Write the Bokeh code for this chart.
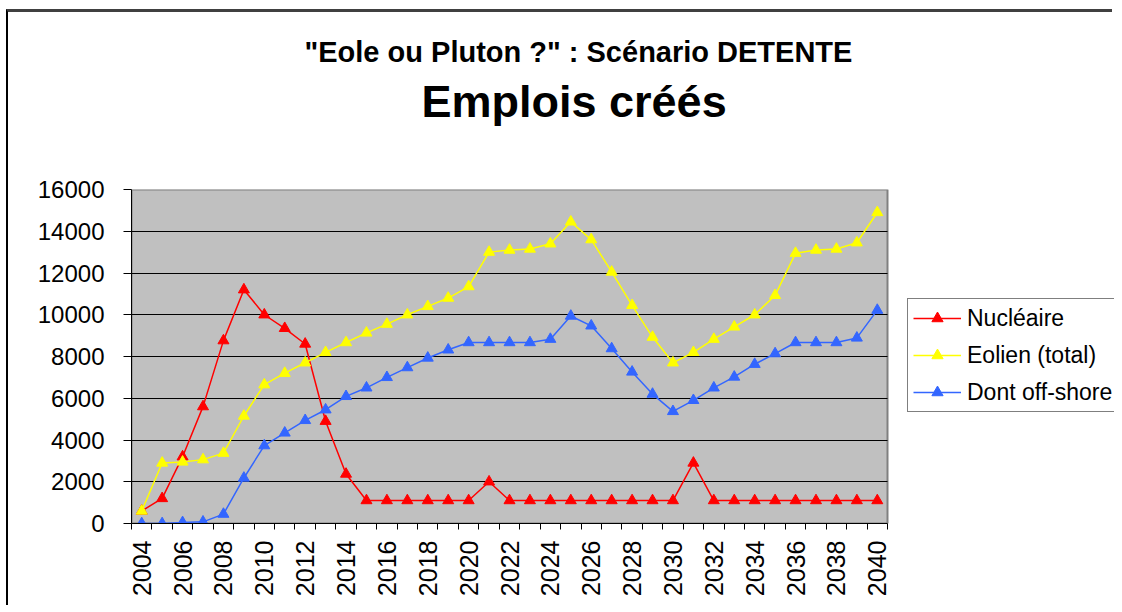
import math
from bokeh.plotting import figure
from bokeh.models import Range1d, FixedTicker, Legend, LegendItem, Title
from bokeh.embed import file_html
from bokeh.resources import INLINE

# ---- data ----
years = list(range(2004, 2041))
nucleaire = [600, 1200, 3200, 5600, 8760, 11200, 10000, 9350, 8600, 4900, 2370,
             1100, 1100, 1100, 1100, 1100, 1100, 2000,
             1100, 1100, 1100, 1100, 1100, 1100, 1100, 1100, 1100, 2900,
             1100, 1100, 1100, 1100, 1100, 1100, 1100, 1100, 1100]
eolien = [600, 2900, 2950, 3060, 3370, 5150, 6650, 7200, 7700, 8200, 8670, 9130,
          9550, 10000, 10400, 10800, 11350, 13000, 13100, 13150, 13400, 14450,
          13600, 12050, 10450, 8930, 7700, 8200, 8830, 9420, 10000, 10930,
          12950, 13100, 13150, 13450, 14900]
offshore = [0, 0, 50, 80, 450, 2180, 3730, 4340, 4940, 5450, 6090, 6500,
            7000, 7470, 7930, 8320, 8670, 8670, 8670, 8670, 8830, 9940,
            9470, 8380, 7260, 6200, 5370, 5900, 6500, 7020, 7630, 8140,
            8670, 8670, 8670, 8890, 10220]
series_names = ["Nucléaire", "Eolien (total)", "Dont off-shore"]
series_colors = ["#FF0000", "#FFFF00", "#3366FF"]
y_ticks = list(range(0, 16001, 2000))
x_label_years = list(range(2004, 2041, 2))
title1 = '"Eole ou Pluton ?" : Scénario DETENTE'
title2 = "Emplois créés"

FONT = "Liberation Sans"

# layout (page px)
CANVAS_LEFT, CANVAS_TOP = 8, 12
W, H = 1106, 596
FL, FR, FT, FB = 131, 887, 189, 523          # plot area in page px
CANVAS_RIGHT = CANVAS_LEFT + W

x0, x1 = years[0] - 0.5, years[-1] + 0.5
y0, y1 = y_ticks[0], y_ticks[-1]
# frame extends right to the canvas edge so the legend can live inside it
x_right = x0 + (CANVAS_RIGHT - FL) / (FR - FL) * (x1 - x0)

p = figure(width=W, height=H, output_backend="svg", toolbar_location=None,
           x_range=Range1d(x0, x_right), y_range=Range1d(y0, y1),
           min_border_left=FL - CANVAS_LEFT, min_border_top=FT - CANVAS_TOP,
           min_border_right=0,
           min_border_bottom=H - (FB - CANVAS_TOP))
p.styles = {"margin-left": "6px", "margin-top": "9px",
            "border-top": "3px solid #404040", "border-left": "2px solid #000000"}

p.background_fill_color = "white"
p.border_fill_color = "white"
p.outline_line_color = None

# plot area (grey background with grey border)
p.quad(left=[x0], right=[x1], bottom=[y0], top=[y1], fill_color="#C0C0C0",
       line_color="#808080", line_width=2, level="image")

# axes
p.xaxis.bounds = (x0, x1)
p.xaxis.ticker = FixedTicker(ticks=x_label_years,
                             minor_ticks=[y - 0.5 for y in years] + [years[-1] + 0.5])
p.xaxis.major_tick_out = 0
p.xaxis.major_tick_in = 0
p.xaxis.minor_tick_out = 6
p.xaxis.minor_tick_in = 0
p.xaxis.minor_tick_line_color = "black"
p.xaxis.major_label_orientation = math.pi / 2
p.xaxis.major_label_standoff = 11
p.xaxis.major_label_text_font = FONT
p.xaxis.major_label_text_font_size = "25px"
p.xaxis.major_label_text_color = "black"
p.xaxis.axis_line_color = "black"

p.yaxis.ticker = FixedTicker(ticks=y_ticks, minor_ticks=[])
p.yaxis.major_tick_out = 8
p.yaxis.major_tick_in = 0
p.yaxis.major_tick_line_color = "black"
p.yaxis.major_label_standoff = 19
p.yaxis.major_label_text_font = FONT
p.yaxis.major_label_text_font_size = "24px"
p.yaxis.major_label_text_color = "black"
p.yaxis.axis_line_color = "black"

p.xgrid.visible = False
p.ygrid.ticker = FixedTicker(ticks=y_ticks[:-1])
p.ygrid.cross_bounds = (x0, x1)
p.ygrid.grid_line_color = "black"
p.ygrid.grid_line_width = 1

# series
items = []
for name, vals, col in zip(series_names, [nucleaire, eolien, offshore], series_colors):
    lr = p.line(years, vals, line_color=col, line_width=1.5)
    sr = p.scatter(years, vals, marker="triangle", size=11, fill_color=col, line_color=col)
    items.append(LegendItem(label=name, renderers=[lr, sr]))

legend = Legend(items=items, location=(907 - FL, FB - 412), margin=0)
legend.label_text_font = FONT
legend.label_text_font_size = "23px"
legend.label_text_color = "black"
legend.glyph_width = 48
legend.glyph_height = 28
legend.label_height = 28
legend.spacing = 9
legend.padding = 5
legend.label_standoff = 6
legend.border_line_color = "black"
legend.border_line_width = 1
legend.background_fill_color = "white"
legend.background_fill_alpha = 1
p.add_layout(legend, "center")

# titles in the top panel (first added = nearest the frame)
spacer = Title(text=" ", text_font_size="10px", standoff=50)
t2 = Title(text=title2, align="left", offset=290, text_font=FONT,
           text_font_size="45px", text_font_style="bold", text_color="black", standoff=0)
t1 = Title(text=title1, align="left", offset=173, text_font=FONT,
           text_font_size="29px", text_font_style="bold", text_color="black", standoff=11)
p.add_layout(spacer, "above")
p.add_layout(t2, "above")
p.add_layout(t1, "above")

open("out.html", "w").write(file_html(p, INLINE))
